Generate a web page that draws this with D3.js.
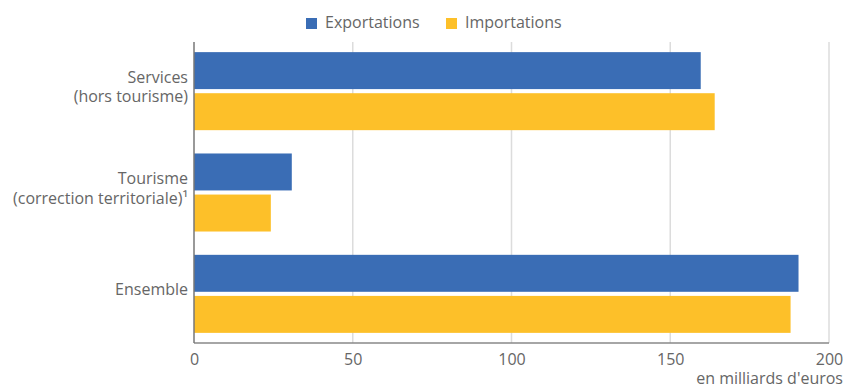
<!DOCTYPE html>
<html>
<head>
<meta charset="utf-8">
<script src="https://cdn.jsdelivr.net/npm/d3@7"></script>
<style>
  body { margin: 0; background: #fff; }
  svg text { font-family: "Open Sans", sans-serif; fill: #666; }
</style>
</head>
<body>
<svg id="chart" width="847" height="388"></svg>
<script>
// Échanges de services, en milliards d'euros
const categories = [
  ["Services", "(hors tourisme)"],
  ["Tourisme", "(correction territoriale)¹"],
  ["Ensemble"]
];
const seriesNames = ["Exportations", "Importations"];
const exportations = [159.6, 30.8, 190.4];
const importations = [164.0, 24.2, 187.9];
const xTicks = [0, 50, 100, 150, 200];
const colors = ["#3a6db5", "#fdc029"];

const svg = d3.select("#chart");
const margin = { top: 42, right: 18, bottom: 45, left: 194 };
const W = 847, H = 388;
const innerW = W - margin.left - margin.right;
const innerH = H - margin.top - margin.bottom;
const fs = "16px";

const g = svg.append("g").attr("transform", `translate(${margin.left},${margin.top})`);

const x = d3.scaleLinear().domain([0, 200]).range([0, innerW]);
const y = d3.scaleBand().domain(d3.range(categories.length)).range([0, innerH])
  .paddingInner(0.23).paddingOuter(0.1);
const ySub = d3.scaleBand().domain([0, 1]).range([0, y.bandwidth()]).paddingInner(0.1);

// Gridlines
g.selectAll("line.grid").data(xTicks.filter(d => d > 0)).join("line")
  .attr("class", "grid")
  .attr("x1", d => x(d)).attr("x2", d => x(d))
  .attr("y1", 0).attr("y2", innerH)
  .attr("stroke", "#dcdcdc").attr("stroke-width", 1.5);

// Bars
const rows = categories.map((c, i) => [exportations[i], importations[i]]);
const groups = g.selectAll("g.cat").data(rows).join("g")
  .attr("class", "cat")
  .attr("transform", (d, i) => `translate(0,${y(i)})`);
groups.selectAll("rect").data(d => d).join("rect")
  .attr("x", 0)
  .attr("y", (d, j) => ySub(j))
  .attr("width", d => x(d))
  .attr("height", ySub.bandwidth())
  .attr("fill", (d, j) => colors[j]);

// Axis lines
g.append("line").attr("x1", 0).attr("x2", innerW).attr("y1", innerH).attr("y2", innerH)
  .attr("stroke", "#888").attr("stroke-width", 1.5);
g.append("line").attr("x1", 0).attr("x2", 0).attr("y1", 0).attr("y2", innerH)
  .attr("stroke", "#777").attr("stroke-width", 1.5);

// X axis tick labels
const xAxis = d3.axisBottom(x).tickValues(xTicks).tickSize(0).tickPadding(11);
const xg = g.append("g").attr("transform", `translate(0,${innerH})`).call(xAxis);
xg.select(".domain").remove();
xg.selectAll("text").style("font-size", fs).style("font-family", "Open Sans").attr("fill", "#666");

// Unit label
svg.append("text").attr("x", 843).attr("y", 384).attr("text-anchor", "end")
  .style("font-size", fs).text("en milliards d'euros");

// Category labels
const lineH = 19.5;
categories.forEach((lines, i) => {
  const cy = y(i) + y.bandwidth() / 2 + margin.top;
  const t = svg.append("text").attr("text-anchor", "end").style("font-size", fs);
  lines.forEach((l, k) => {
    t.append("tspan").attr("x", margin.left - 6)
      .attr("y", cy - (lines.length - 1) * lineH / 2 + k * lineH + 1.5)
      .text(l);
  });
});

// Legend
const legend = svg.append("g");
const legX = [306, 446];
seriesNames.forEach((name, i) => {
  legend.append("rect").attr("x", legX[i]).attr("y", 18).attr("width", 11).attr("height", 11)
    .attr("fill", colors[i]);
  legend.append("text").attr("x", legX[i] + 19).attr("y", 28)
    .style("font-size", fs).text(name);
});
</script>
</body>
</html>
